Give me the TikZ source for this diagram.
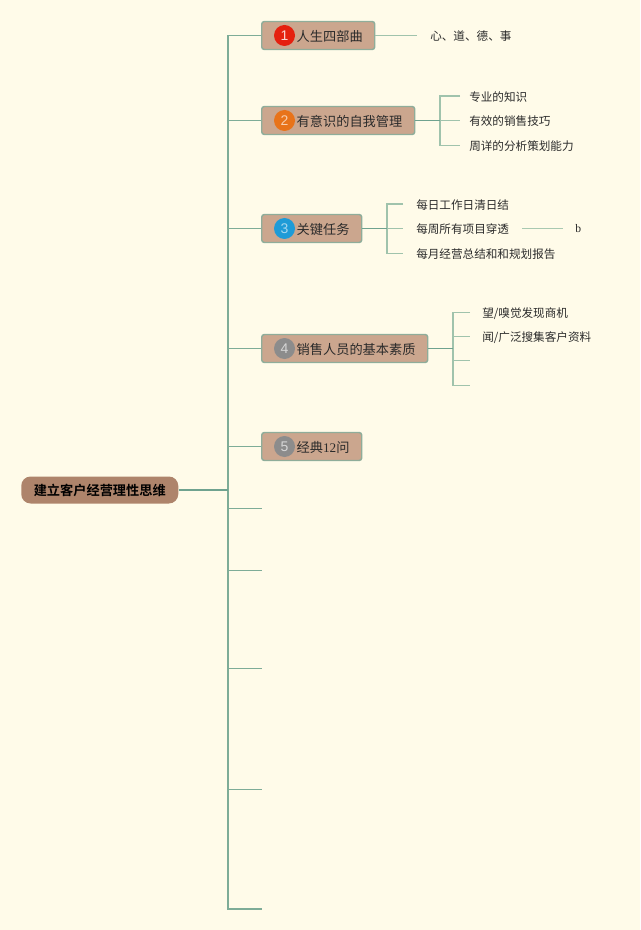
\documentclass[tikz,border=0pt]{standalone}
\usepackage{fontspec}
\setmainfont{Liberation Serif}
\newfontfamily\cjk{Noto Sans CJK SC}
\newfontfamily\cjkb{Noto Sans CJK SC Bold}
\newfontfamily\sansnum{Liberation Sans}
\newdimen\px \px=0.75pt
\definecolor{bgc}{HTML}{FFFBE9}
\definecolor{boxc}{HTML}{CBA68E}
\definecolor{boxb}{HTML}{8FAD9A}
\definecolor{rootc}{HTML}{AE846B}
\definecolor{linea}{HTML}{6FA28F}
\definecolor{lineb}{HTML}{A9C9B1}
\definecolor{inkc}{HTML}{2B2B2B}
\definecolor{bred}{HTML}{E5200F}
\definecolor{borange}{HTML}{E8731A}
\definecolor{bblue}{HTML}{1E9BD7}
\definecolor{bgrey}{HTML}{8C8C8C}
\tikzset{
  x=0.75pt,y=-0.75pt,
  topic/.style={draw=boxb,line width=1.1pt,fill=boxc,rounded corners=2pt,anchor=west,inner xsep=0pt,inner ysep=0pt,
    minimum height=28\px,align=left,text height=9.3pt,text depth=0.6pt,font=\fontsize{9.9pt}{12pt}\selectfont\cjk,text=inkc},
  rootbox/.style={fill=rootc,rounded corners=7pt,anchor=west,inner sep=0pt,minimum width=157\px,minimum height=27\px,
    font=\fontsize{9.9pt}{12pt}\selectfont\cjkb,text=black},
  leaf/.style={anchor=west,inner ysep=1pt,text height=8.3pt,text depth=0.6pt,font=\fontsize{8.7pt}{11pt}\selectfont\cjk,text=inkc},
  badge/.style={circle,inner sep=0pt,minimum size=21\px,font=\fontsize{10.5pt}{12pt}\selectfont\sansnum},
  trunk/.style={draw=linea!75!lineb,line width=0.95pt},
  hub/.style={draw=linea,line width=1.2pt},
  twig/.style={draw=lineb,line width=0.9pt},
  limb/.style={draw=lineb!85!linea,line width=0.9pt},
}
\begin{document}
\begin{tikzpicture}
\useasboundingbox[fill=bgc] (0,0) rectangle (640,930);

% root
\node[rootbox] (root) at (21,490) {建立客户经营理性思维};
\coordinate (trunkhub) at (228,490);
\coordinate (trunktop) at (228,35.5);
\coordinate (trunkend) at (228,909);

% free branch ends
\coordinate (f1) at (262,508.5);
\coordinate (f2) at (262,570.5);
\coordinate (f3) at (262,668.5);
\coordinate (f4) at (262,789.5);
\coordinate (f5) at (262,909);

% topics
\node[topic,text width=113\px] (t1) at (261,35.5) {\hspace*{35\px}人生四部曲};
\node[topic,text width=153\px] (t2) at (261,120.5) {\hspace*{35\px}有意识的自我管理};
\node[topic,text width=100\px] (t3) at (261,228.5) {\hspace*{35\px}关键任务};
\node[topic,text width=166\px] (t4) at (261,348.5) {\hspace*{35\px}销售人员的基本素质};
\node[topic,text width=100\px] (t5) at (261,446.5) {\hspace*{35\px}经典{\rmfamily 12}问};

% badges
\node[badge,fill=bred,text=white!80!bred] (b1) at (284.5,35.5) {1};
\node[badge,fill=borange,text=white!65!borange] (b2) at (284.5,120.5) {2};
\node[badge,fill=bblue,text=white!60!bblue] (b3) at (284.5,228.5) {3};
\node[badge,fill=bgrey,text=white!65!bgrey] (b4) at (284.5,348.5) {4};
\node[badge,fill=bgrey,text=white!65!bgrey] (b5) at (284.5,446.5) {5};

% leaves
\node[leaf,inner xsep=13\px] (l1) at (417,35.5) {心、道、德、事};
\node[leaf,inner xsep=9\px] (l21) at (460,96) {专业的知识};
\node[leaf,inner xsep=9\px] (l22) at (460,120.5) {有效的销售技巧};
\node[leaf,inner xsep=9\px] (l23) at (460,145.5) {周详的分析策划能力};
\node[leaf,inner xsep=13\px] (l31) at (403,204) {每日工作日清日结};
\node[leaf,inner xsep=13\px] (l32) at (403,228.5) {每周所有项目穿透};
\node[leaf,inner xsep=13\px] (l33) at (403,253.5) {每月经营总结和和规划报告};
\node[anchor=west,inner xsep=0pt,font=\fontsize{8.7pt}{11pt}\selectfont,text=inkc] (lb) at (575,228.5) {b};
\node[leaf,inner xsep=12\px] (l41) at (470,312.5) {望/嗅觉发现商机};
\node[leaf,inner xsep=12\px] (l42) at (470,336.5) {闻/广泛搜集客户资料};
\coordinate (l43) at (470,360.5);
\coordinate (l44) at (470,385.5);

% hubs
\coordinate (h2) at (440,120.5);
\coordinate (h3) at (387,228.5);
\coordinate (h4) at (453,348.5);
\coordinate (bs) at (522,228.5);
\coordinate (be) at (563,228.5);

% trunk
\draw[trunk] (trunktop) -- (trunkend) -- (f5);
\draw[trunk] (trunktop) -- (t1.west);
\draw[trunk] (228,120.5) -- (t2.west);
\draw[trunk] (228,228.5) -- (t3.west);
\draw[trunk] (228,348.5) -- (t4.west);
\draw[trunk] (228,446.5) -- (t5.west);
\draw[trunk] (228,508.5) -- (f1);
\draw[trunk] (228,570.5) -- (f2);
\draw[trunk] (228,668.5) -- (f3);
\draw[trunk] (228,789.5) -- (f4);
\draw[hub] (root.east) -- (trunkhub);

% leaf connectors
\draw[limb] (t1.east) -- (l1.west);
\draw[limb] (l21.west) -| (h2) |- (l23.west);
\draw[limb] (h2) -- (l22.west);
\draw[hub] (t2.east) -- (h2);
\draw[limb] (l31.west) -| (h3) |- (l33.west);
\draw[limb] (h3) -- (l32.west);
\draw[hub] (t3.east) -- (h3);
\draw[twig] (bs) -- (be);
\draw[limb] (l41.west) -| (h4) |- (l44);
\draw[limb] (453,336.5) -- (l42.west);
\draw[limb] (453,360.5) -- (l43);
\draw[hub] (t4.east) -- (h4);
\end{tikzpicture}
\end{document}
